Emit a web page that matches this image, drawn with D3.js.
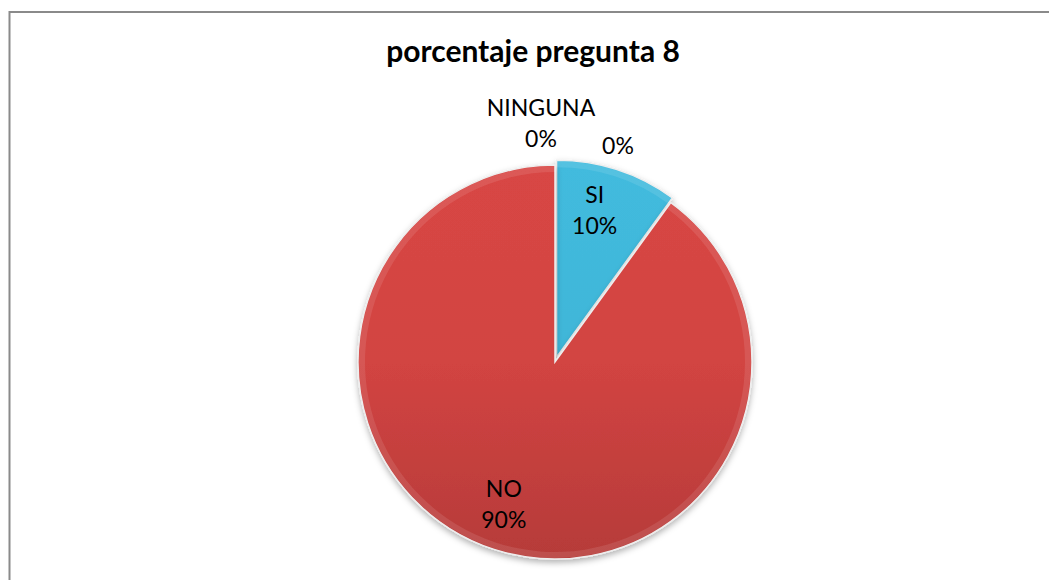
<!DOCTYPE html>
<html>
<head>
<meta charset="utf-8">
<script src="https://cdn.jsdelivr.net/npm/d3@7"></script>
<style>
  html, body { margin: 0; padding: 0; background: #fff; overflow: hidden; }
  svg { display: block; }
</style>
</head>
<body>
<div id="chart"></div>
<script>
// chart data
const categories = ["SI", "NO", "NINGUNA", ""];
const values = [10, 90, 0, 0];
const sliceColors = ["#40b6d8", "#d24442", "#9bbb59", "#8064a2"];
const chartTitle = "porcentaje pregunta 8";

document.addEventListener("DOMContentLoaded", () => {
  const width = 1049;
  const height = 580;
  const cx = 555, cy = 362, radius = 197;
  const font = "Lato, 'Open Sans', sans-serif";

  const svg = d3.select("#chart").append("svg")
    .attr("width", width)
    .attr("height", height);

  const defs = svg.append("defs");

  // soft top-to-bottom shading, a bit like the Excel bevel
  // (coordinates are local to the pie group, centred on 0,0)
  sliceColors.forEach((c, i) => {
    const g = defs.append("linearGradient")
      .attr("id", "grad" + i)
      .attr("gradientUnits", "userSpaceOnUse")
      .attr("x1", 0).attr("y1", -radius)
      .attr("x2", 0).attr("y2", radius);
    g.append("stop").attr("offset", "0%").attr("stop-color", d3.color(c).brighter(0.08));
    g.append("stop").attr("offset", "50%").attr("stop-color", c);
    g.append("stop").attr("offset", "100%").attr("stop-color", d3.color(c).darker(0.4));
  });

  const shadow = defs.append("filter").attr("id", "shadow")
    .attr("x", "-20%").attr("y", "-20%").attr("width", "140%").attr("height", "140%");
  shadow.append("feDropShadow")
    .attr("dx", 0).attr("dy", 3).attr("stdDeviation", 3)
    .attr("flood-color", "#000").attr("flood-opacity", 0.3);

  // chart frame
  svg.append("rect")
    .attr("x", 9.5).attr("y", 12)
    .attr("width", 1100).attr("height", 600)
    .attr("fill", "#fff")
    .attr("stroke", "#8a8a8a")
    .attr("stroke-width", 2);

  svg.append("text")
    .attr("x", 533).attr("y", 62)
    .attr("text-anchor", "middle")
    .attr("font-family", font)
    .attr("font-weight", "bold")
    .attr("font-size", 30)
    .attr("fill", "#000")
    .text(chartTitle);

  const data = categories.map((c, i) => ({ name: c, value: values[i], i }));
  const pie = d3.pie().sort(null).value(d => d.value);
  const arcs = pie(data);
  const total = d3.sum(values);

  const arc = d3.arc().innerRadius(0).outerRadius(radius);
  const labelArc = d3.arc().innerRadius(radius * 0.77).outerRadius(radius * 0.77);

  // explode the SI slice
  const explode = 5;
  const offset = d => {
    if (d.data.name !== "SI") return [0, 0];
    const a = (d.startAngle + d.endAngle) / 2;
    return [Math.sin(a) * explode, -Math.cos(a) * explode];
  };

  const g = svg.append("g").attr("transform", `translate(${cx},${cy})`);

  g.selectAll("path.slice")
    .data(arcs.filter(d => d.value > 0))
    .enter().append("path")
    .attr("class", "slice")
    .attr("transform", d => `translate(${offset(d)})`)
    .attr("d", arc)
    .attr("fill", d => `url(#grad${d.data.i})`)
    .attr("stroke", "#eeeeee")
    .attr("stroke-width", 1.5)
    .attr("filter", "url(#shadow)");

  // faint rim highlight
  g.selectAll("path.bevel")
    .data(arcs.filter(d => d.value > 0))
    .enter().append("path")
    .attr("class", "bevel")
    .attr("transform", d => `translate(${offset(d)})`)
    .attr("d", d3.arc().innerRadius(radius - 7).outerRadius(radius - 1))
    .attr("fill", "#fff")
    .attr("opacity", 0.1);

  // label positions: slices with value use centroid, empty ones sit outside
  const outsidePos = { "NINGUNA": [-14, -239], "": [63, -216] };
  const labels = g.selectAll("g.label")
    .data(arcs)
    .enter().append("g")
    .attr("class", "label")
    .attr("transform", d => {
      if (d.value > 0) {
        const [ox, oy] = offset(d);
        const a = (d.startAngle + d.endAngle) / 2;
        const shift = d.data.name === "SI" ? -0.06 : 0.03;
        const p = labelArc.centroid({ startAngle: a + shift, endAngle: a + shift });
        return `translate(${p[0] + ox},${p[1] + oy})`;
      }
      return `translate(${outsidePos[d.data.name]})`;
    });

  labels.each(function(d) {
    const sel = d3.select(this);
    const pct = Math.round(d.value / total * 100) + "%";
    const lines = d.data.name ? [d.data.name, pct] : [pct];
    const lh = 31;
    const start = -(lines.length - 1) * lh / 2;
    lines.forEach((t, k) => {
      sel.append("text")
        .attr("y", start + k * lh)
        .attr("dy", "0.35em")
        .attr("text-anchor", "middle")
        .attr("font-family", font)
        .attr("font-size", 23)
        .attr("fill", "#000")
        .text(t);
    });
  });
});
</script>
</body>
</html>
